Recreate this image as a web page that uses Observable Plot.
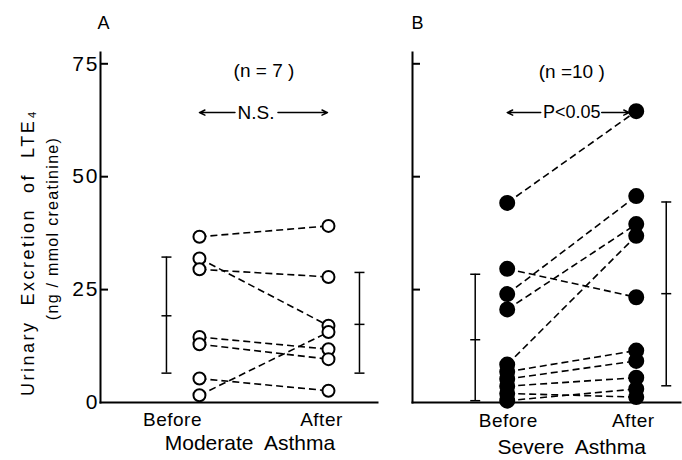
<!DOCTYPE html>
<html><head><meta charset="utf-8">
<script src="https://cdn.jsdelivr.net/npm/d3@7"></script>
<script src="https://cdn.jsdelivr.net/npm/@observablehq/plot@0.6"></script>
<style>
body{margin:0;background:#fff;}
#chart{position:relative;width:682px;height:460px;background:#fff;}
#chart svg{position:absolute;top:0;}
</style></head><body><div id="chart"></div>
<script>
// ---- data ----
const timepoints = ["Before", "After"];
const yTicks = [0, 25, 50, 75];

const moderateBefore = [36.7, 31.9, 29.5, 14.5, 12.9, 5.3, 1.6];
const moderateAfter  = [39.1, 17.0, 27.8, 11.8, 9.6, 2.6, 15.6];
const moderateMean = [19.2, 17.3];
const moderateLow  = [6.5, 6.5];
const moderateHigh = [32.2, 28.8];

const severeBefore = [44.2, 29.6, 24.0, 20.6, 8.4, 6.8, 5.2, 3.6, 2.0, 0.4];
const severeAfter  = [64.5, 23.3, 45.7, 39.5, 36.9, 11.5, 9.2, 5.5, 1.2, 3.0];
const severeMean = [13.9, 24.1];
const severeLow  = [0.4, 3.7];
const severeHigh = [28.4, 44.4];

const font = "Liberation Sans, Arial, sans-serif";
const hbar = { draw(ctx, size) { const r = Math.sqrt(size / Math.PI); ctx.moveTo(-r, 0); ctx.lineTo(r, 0); } };

function panel(cfg) {
  const idx = timepoints.map((t, i) => i);
  const iB = timepoints.indexOf("Before"), iA = timepoints.indexOf("After");
  const mid = (iB + iA) / 2;
  const pairs = cfg.before.map((b, k) => ({b, a: cfg.after[k]}));
  const pts = [...cfg.before.map(v => ({x: iB, y: v})), ...cfg.after.map(v => ({x: iA, y: v}))];
  const marks = [
    Plot.frame({anchor: "left", strokeWidth: 2}),
    Plot.frame({anchor: "bottom", strokeWidth: 2}),
    Plot.ruleY(yTicks.filter(d => d > 0), {x1: cfg.xDomain[0], x2: cfg.xDomain[0], insetRight: -8, strokeWidth: 2}),
    Plot.link(pairs, {x1: iB, x2: iA, y1: "b", y2: "a", stroke: "black", strokeWidth: 1.6, strokeDasharray: "7,4"}),
    Plot.dot(pts, {x: "x", y: "y", r: cfg.filled ? 7 : 6, fill: cfg.filled ? "black" : "white", stroke: "black", strokeWidth: 2})
  ];
  idx.forEach(i => {
    const bar = [{x: i, mean: cfg.mean[i], low: cfg.low[i], high: cfg.high[i]}];
    marks.push(Plot.ruleX(bar, {x: "x", y1: "low", y2: "high", dx: cfg.barShift[i], strokeWidth: 1.5}));
    for (const k of ["low", "high", "mean"])
      marks.push(Plot.dot(bar, {x: "x", y: k, dx: cfg.barShift[i], r: 5, symbol: hbar, fill: "none", stroke: "black", strokeWidth: 1.5}));
    marks.push(Plot.text([timepoints[i]], {x: i, text: d => d, frameAnchor: "bottom", lineAnchor: "middle", dy: cfg.tickDy, dx: cfg.tickShift[i], fontSize: 19, fill: "black"}));
  });
  // annotations
  marks.push(Plot.text([cfg.n], {x: mid, y: cfg.nLevel, text: d => d, fontSize: 19, fill: "black"}));
  marks.push(Plot.text([cfg.test], {x: mid, y: cfg.testLevel, text: d => d, dx: cfg.testShift, fontSize: cfg.testSize, fill: "black"}));
  marks.push(Plot.arrow([0], {x1: mid, y1: cfg.testLevel, x2: iB, y2: cfg.testLevel, insetStart: cfg.gapL, insetEnd: cfg.endL, headLength: 6, headAngle: 50, strokeWidth: 1.5}));
  marks.push(Plot.arrow([0], {x1: mid, y1: cfg.testLevel, x2: iA, y2: cfg.testLevel, insetStart: cfg.gapR, insetEnd: cfg.endR, headLength: 6, headAngle: 50, strokeWidth: 1.5}));
  marks.push(Plot.text([cfg.group], {x: mid, text: d => d, frameAnchor: "bottom", lineAnchor: "middle", dy: cfg.groupDy, dx: cfg.groupShift, fontSize: 21, fill: "black"}));
  marks.push(Plot.text([cfg.letter], {frameAnchor: "top-left", textAnchor: "middle", lineAnchor: "middle", text: d => d, dx: cfg.letterDx, dy: -29, fontSize: 18, fill: "black"}));
  if (cfg.yAxis) {
    marks.push(Plot.axisY(yTicks, {tickSize: 0, tickPadding: 1, fontSize: 21, label: null}));
    marks.push(Plot.text(["Urinary  Excretion  of  LTE\u2084"], {frameAnchor: "left", textAnchor: "middle", rotate: -90, text: d => d, dx: -72, dy: 25, fontSize: 18, fill: "black"}));
    marks.push(Plot.text(["(ng / mmol creatinine)"], {frameAnchor: "left", textAnchor: "middle", rotate: -90, text: d => d, dx: -48, dy: 1, fontSize: 16, fill: "black"}));
  }
  const svg = Plot.plot({
    width: cfg.width, height: 460,
    marginTop: 52, marginBottom: 58, marginLeft: cfg.marginLeft, marginRight: cfg.marginRight,
    style: {fontFamily: font, background: "white", color: "black"},
    x: {domain: cfg.xDomain, axis: null},
    y: {domain: [0, 77.5], axis: cfg.yAxis ? undefined : null},
    marks
  });
  // letter spacing to mimic the wide lettering of the original
  const spacing = (t) => {
    if (t.startsWith("Urinary")) return "2.5px";
    if (t.startsWith("(ng")) return "1.3px";
    if (t === "Before" || t === "After") return "0.5px";
    if (/^\d+$/.test(t)) return "2px";
    return null;
  };
  d3.select(svg).selectAll("text").each(function() {
    const s = spacing(this.textContent);
    if (s) this.style.letterSpacing = s;
  });
  return svg;
}

const A = panel({
  width: 390, marginLeft: 100, marginRight: 13, xDomain: [-0.767, 1.380],
  before: moderateBefore, after: moderateAfter, mean: moderateMean, low: moderateLow, high: moderateHigh,
  filled: false, barShift: [-33, 31], tickShift: [-27, -7], tickDy: 17,
  n: "(n = 7 )", nLevel: 73.5, test: "N.S.", testSize: 19, testLevel: 64.2, testShift: -8, gapL: 29, endL: 0, gapR: 14, endR: 1,
  group: "Moderate  Asthma", groupDy: 41, groupShift: -14, letter: "A", letterDx: 3, yAxis: true
});
const B = panel({
  width: 292, marginLeft: 22, marginRight: 2, xDomain: [-0.734, 1.343],
  before: severeBefore, after: severeAfter, mean: severeMean, low: severeLow, high: severeHigh,
  filled: true, barShift: [-32, 30], tickShift: [1, -3], tickDy: 18,
  n: "(n =10 )", nLevel: 73.3, test: "P<0.05", testSize: 18, testLevel: 64.2, testShift: 0, gapL: 31, endL: 0, gapR: 30, endR: 7,
  group: "Severe  Asthma", groupDy: 45, groupShift: 0, letter: "B", letterDx: 5, yAxis: false
});
A.style.left = "0px";
B.style.left = "390px";
document.getElementById("chart").append(A, B);
</script>
</body></html>
